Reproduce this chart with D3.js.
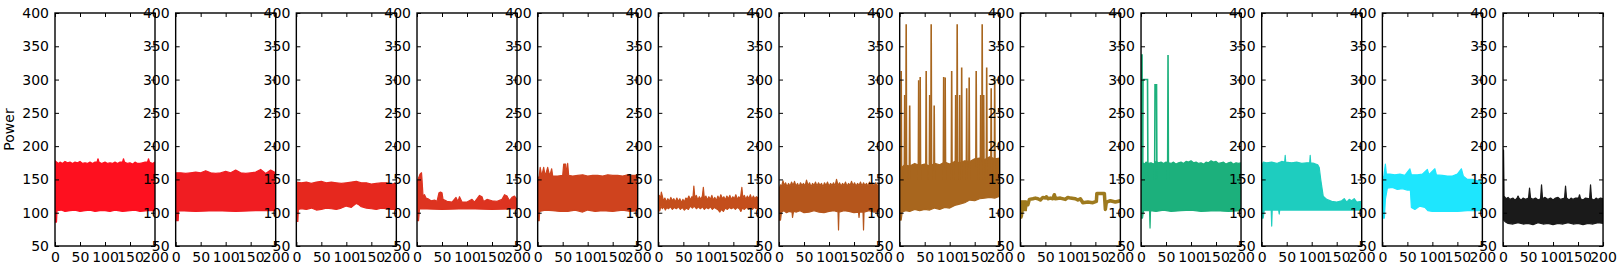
<!DOCTYPE html>
<html>
<head>
<meta charset="utf-8">
<script src="https://cdnjs.cloudflare.com/ajax/libs/d3/7.8.5/d3.min.js"></script>
<style>
 body{margin:0;background:#fff;}
 text{font-family:"DejaVu Sans",sans-serif;}
</style>
</head>
<body>
<svg id="chart" width="1619" height="274"></svg>
<script>
// axis ticks
var xTicks = [0, 50, 100, 150, 200];
var yTicks = [50, 100, 150, 200, 250, 300, 350, 400];
var yLabel = "Power";

// panel colours, left to right
var colors = ["#fe101f","#f01d22","#e6281e","#dd3320","#cf431e","#c44e1c","#b5561c",
              "#a8661e","#9e7a1e","#1cb07c","#1ecdbf","#1ee6fe","#1a1a1a"];

// upper / lower envelope of each panel, [x, power]
var hi1 = [[0,178],[3,176],[7,174],[10,176],[15,174],[20,177],[25,175],[30,176],[35,174],[40,176],[45,175],[50,177],[55,174],[60,175],[65,174],[70,176],[75,174],[80,176],[84,176],[86,181],[88,176],[93,174],[100,176],[105,174],[110,175],[115,174],[120,176],[125,174],[130,176],[135,176],[137,181],[139,176],[145,174],[150,175],[155,173],[160,176],[165,174],[170,174],[175,175],[180,176],[185,176],[187,181],[189,176],[195,174],[200,176]];
var lo1 = [[0,86],[3,86],[4,103],[12,104],[20,102],[30,103],[40,104],[50,102],[60,103],[70,104],[80,102],[90,103],[100,103],[110,102],[120,104],[135,102],[150,103],[160,104],[170,102],[185,103],[200,103]];

var hi2 = [[0,160],[10,160],[20,159],[30,160],[40,161],[50,160],[60,163],[70,160],[80,159],[90,160],[100,162],[110,160],[120,164],[130,160],[140,159],[150,160],[160,161],[170,165],[180,159],[190,164],[200,160]];
var lo2 = [[0,88],[5,88],[6,103],[40,102],[80,103],[120,102],[160,103],[200,103]];

var hi3 = [[0,146],[10,145],[20,146],[30,144],[40,146],[50,147],[60,145],[70,146],[80,145],[90,144],[100,145],[110,146],[120,147],[130,145],[140,145],[150,143],[160,144],[170,145],[180,145],[190,143],[200,144]];
var lo3 = [[0,87],[3,87],[4,105],[10,106],[20,105],[30,107],[40,104],[50,105],[60,107],[70,106],[80,105],[90,107],[100,110],[110,108],[120,114],[125,112],[130,109],[140,107],[150,106],[160,105],[170,107],[180,106],[190,105],[200,105]];

var hi4 = [[0,145],[2,150],[6,158],[9,160],[10,150],[12,125],[15,127],[18,122],[22,121],[28,118],[35,119],[40,117],[44,130],[47,131],[50,130],[52,120],[60,117],[70,116],[78,123],[82,117],[85,124],[90,116],[100,116],[110,120],[115,116],[125,126],[130,124],[133,117],[140,120],[150,118],[160,117],[170,120],[175,127],[180,125],[185,118],[190,123],[195,125],[200,120]];
var lo4 = [[0,88],[3,88],[5,106],[50,105],[100,106],[150,105],[200,106]];

var hi5 = [[0,150],[3,155],[5,168],[8,155],[12,168],[15,155],[20,168],[24,155],[28,166],[30,155],[40,155],[50,156],[52,173],[56,173],[57,156],[60,174],[62,156],[70,155],[80,156],[90,157],[100,155],[110,156],[120,156],[130,155],[140,157],[150,156],[160,156],[170,155],[180,157],[190,156],[200,156]];
var lo5 = [[0,88],[3,88],[4,102],[15,104],[30,103],[45,102],[60,102],[75,104],[90,101],[100,104],[115,102],[130,103],[150,102],[170,104],[185,102],[200,103]];

var hi6 = [[0,115],[2,126],[4,120],[6,131],[8,125],[10,118],[13,122],[16,116],[19,121],[22,117],[25,123],[28,118],[31,121],[34,116],[37,122],[40,117],[43,121],[46,115],[49,120],[52,116],[55,122],[58,120],[61,125],[64,119],[67,124],[69,121],[71,140],[73,122],[76,126],[79,119],[82,124],[85,120],[88,125],[90,138],[92,121],[95,125],[98,119],[101,124],[104,120],[107,126],[110,119],[113,123],[116,118],[119,125],[122,120],[125,127],[128,121],[131,124],[134,119],[137,125],[140,121],[143,126],[146,120],[149,124],[152,121],[155,127],[158,120],[161,124],[164,121],[167,138],[169,122],[172,126],[175,120],[178,125],[181,121],[184,127],[187,120],[190,125],[193,121],[196,124],[200,122]];
var lo6 = [[0,102],[3,103],[5,110],[8,106],[11,109],[14,104],[17,108],[20,106],[24,109],[28,105],[32,108],[36,106],[40,109],[44,105],[48,108],[52,104],[56,107],[60,105],[64,110],[68,107],[72,110],[76,106],[80,109],[84,106],[88,109],[92,105],[96,108],[100,106],[104,109],[108,105],[112,108],[116,106],[120,104],[123,101],[126,105],[130,102],[134,107],[138,105],[142,108],[146,106],[150,108],[154,105],[158,108],[162,106],[165,102],[168,107],[172,105],[176,108],[180,106],[184,108],[188,105],[192,108],[196,106],[200,107]];

var hi7 = [[0,135],[3,142],[5,139],[8,148],[10,141],[13,145],[16,139],[19,144],[22,140],[25,146],[28,141],[31,147],[34,140],[37,144],[40,139],[43,145],[46,141],[49,144],[52,140],[55,149],[58,141],[61,145],[64,139],[67,144],[70,141],[73,146],[76,140],[79,145],[82,141],[85,144],[88,139],[91,145],[94,141],[97,146],[100,140],[103,144],[106,141],[109,145],[112,140],[115,150],[118,141],[121,145],[124,140],[127,144],[130,141],[133,146],[136,140],[139,144],[142,141],[145,147],[148,141],[151,145],[154,140],[157,144],[160,141],[163,146],[166,140],[169,145],[172,141],[175,144],[178,140],[181,146],[184,141],[187,144],[190,140],[193,145],[196,141],[200,143]];
var lo7 = [[0,89],[3,89],[5,101],[10,103],[15,100],[20,102],[26,101],[27,93],[29,102],[35,101],[42,103],[50,100],[60,101],[70,103],[80,101],[90,100],[100,102],[110,103],[118,101],[119,74],[120,101],[130,103],[140,102],[150,100],[159,101],[160,93],[161,101],[168,101],[169,74],[170,101],[180,103],[190,101],[200,102]];

var hi8 = [[0,165],[10,172],[20,170],[30,174],[40,171],[50,173],[60,170],[70,174],[80,172],[90,176],[100,173],[110,177],[120,175],[130,178],[140,177],[150,181],[160,182],[170,180],[180,184],[190,181],[200,182]];
var lo8 = [[0,89],[3,89],[5,101],[12,103],[20,102],[30,105],[40,103],[50,105],[60,104],[70,107],[80,105],[90,108],[100,107],[110,111],[120,113],[130,115],[140,119],[150,118],[160,121],[170,122],[180,123],[190,122],[200,125]];
// spikes: [x start, x end, peak]
var spikes8 = [[3,3,313],[10,10,277],[13,13,383],[20,20,261],[38,38,299],[41,41,304],[53,53,313],[60,60,277],[63,63,383],[69,69,261],[88,88,304],[91,91,303],[104,104,313],[112,112,277],[115,115,383],[120,120,277],[124,124,318],[134,134,287],[139,139,303],[153,153,313],[162,162,277],[165,165,383],[168,168,277],[174,174,318],[183,183,287],[190,190,303]];

var hi9 = [[0,118],[12,118]];
var lo9 = [[0,92],[3,92],[5,103],[12,103]];
var line9 = [[0,100],[2,95],[4,110],[6,105],[8,114],[10,106],[12,115],[15,112],[18,120],[25,121],[30,122],[35,121],[40,119],[45,123],[50,122],[52,124],[55,121],[60,122],[65,121],[68,127],[70,121],[80,122],[90,120],[95,123],[100,122],[110,121],[115,119],[120,121],[125,115],[135,116],[145,115],[152,117],[153,129],[165,129],[168,129],[170,105],[172,116],[180,118],[190,116],[200,118]];

var hi10 = [[0,170],[3,175],[7,173],[10,176],[15,174],[20,175],[25,173],[30,177],[35,175],[40,176],[45,174],[50,176],[55,175],[60,174],[65,176],[70,173],[75,175],[80,176],[85,174],[90,177],[95,176],[100,178],[105,175],[110,176],[115,174],[120,175],[125,173],[130,176],[135,175],[140,178],[145,176],[150,177],[155,174],[160,175],[165,176],[170,173],[175,175],[180,176],[185,173],[190,175],[195,174],[200,175]];
var lo10 = [[0,92],[3,92],[5,103],[17,103],[18,77],[19,103],[30,102],[45,104],[60,102],[80,103],[100,104],[120,102],[150,103],[175,102],[200,103]];
var spikes10 = [[1,2,337],[4,13,300],[28,31,292],[54,54,337]];

var hi11 = [[0,170],[3,176],[10,175],[20,176],[30,174],[40,177],[46,176],[47,186],[48,176],[60,175],[70,176],[80,174],[90,175],[96,175],[97,186],[98,175],[105,174],[112,172],[115,168],[118,150],[120,140],[123,125],[130,120],[140,117],[150,116],[160,118],[165,121],[170,116],[175,120],[180,118],[185,121],[190,116],[200,117]];
var lo11 = [[0,92],[3,92],[5,104],[19,104],[20,80],[21,104],[34,104],[35,98],[36,104],[60,104],[100,104],[150,104],[200,104]];

var hi12 = [[0,150],[3,155],[6,173],[8,158],[15,158],[25,157],[35,158],[45,156],[55,166],[58,157],[70,157],[80,158],[90,165],[93,157],[105,166],[108,157],[120,156],[130,155],[140,155],[150,158],[158,166],[162,155],[170,150],[180,150],[190,148],[200,148]];
var lo12 = [[0,92],[4,92],[6,120],[10,137],[20,138],[30,135],[40,136],[50,134],[56,134],[58,108],[65,105],[75,110],[85,108],[91,103],[100,102],[120,102],[150,102],[170,103],[200,103]];

var hi13 = [[0,194],[1,194],[2,125],[6,121],[10,123],[14,120],[20,122],[24,119],[28,122],[30,125],[32,122],[36,119],[40,122],[45,120],[51,122],[53,137],[55,122],[60,120],[65,122],[70,119],[75,121],[77,142],[79,121],[84,123],[90,120],[95,122],[100,119],[105,122],[110,123],[115,120],[123,122],[125,140],[127,122],[132,119],[136,122],[140,120],[145,122],[151,122],[153,127],[155,121],[160,119],[165,122],[173,121],[175,142],[177,121],[182,119],[186,122],[190,120],[195,122],[200,121]];
var lo13 = [[0,90],[5,86],[10,84],[20,83],[30,85],[40,83],[50,84],[60,82],[70,85],[80,83],[90,84],[100,82],[110,84],[120,83],[130,85],[140,83],[150,84],[160,82],[170,84],[180,83],[190,85],[200,84]];

var his = [hi1,hi2,hi3,hi4,hi5,hi6,hi7,hi8,hi9,hi10,hi11,hi12,hi13];
var los = [lo1,lo2,lo3,lo4,lo5,lo6,lo7,lo8,lo9,lo10,lo11,lo12,lo13];
var spikes = {7: spikes8, 9: spikes10};
var lines = {8: line9};

var svg = d3.select("#chart");
var left0 = 55, step = 120.67, pw = 100, plotTop = 13, plotBottom = 246;
var y = d3.scaleLinear().domain([50,400]).range([plotBottom, plotTop]);

colors.forEach(function(col, i){
	var x0 = left0 + i*step;
	var x = d3.scaleLinear().domain([0,200]).range([x0, x0+pw]);
	var line = d3.line().x(function(d){return x(d[0]);}).y(function(d){return y(d[1]);});
	var g = svg.append("g");

	g.append("clipPath").attr("id","clip"+i)
	 .append("rect").attr("x",x0).attr("y",plotTop).attr("width",pw).attr("height",plotBottom-plotTop);
	var data = g.append("g").attr("clip-path","url(#clip"+i+")");

	// dense band: upper edge then lower edge back
	var poly = his[i].concat(los[i].slice().reverse());
	data.append("path")
		.attr("d", line(poly)+"Z")
		.attr("fill",col)
		.attr("stroke",col)
		.attr("stroke-width",1.2)
		.attr("stroke-linejoin","round");

	if(spikes[i]){
		spikes[i].forEach(function(s){
			var pts = [[s[0]-0.8,150],[s[0],s[2]],[s[1],s[2]],[s[1]+0.8,150]];
			data.append("path")
				.attr("d", line(pts))
				.attr("fill","none")
				.attr("stroke",col)
				.attr("stroke-width",1.6);
		});
	}
	if(lines[i]){
		data.append("path")
			.attr("d", line(lines[i]))
			.attr("fill","none")
			.attr("stroke",col)
			.attr("stroke-width",3.5)
			.attr("stroke-linejoin","round");
	}

	// ticks on all four sides, pointing inward
	g.append("g").attr("transform","translate("+x0+",0)")
	 .call(d3.axisLeft(y).tickValues(yTicks).tickSize(-4).tickSizeOuter(0).tickPadding(6).tickFormat(d3.format("d")));
	g.append("g").attr("transform","translate("+(x0+pw)+",0)")
	 .call(d3.axisRight(y).tickValues(yTicks).tickSize(-4).tickSizeOuter(0).tickFormat(""));
	g.append("g").attr("transform","translate(0,"+plotBottom+")")
	 .call(d3.axisBottom(x).tickValues(xTicks).tickSize(-4).tickSizeOuter(0).tickPadding(6).tickFormat(d3.format("d")));
	g.append("g").attr("transform","translate(0,"+plotTop+")")
	 .call(d3.axisTop(x).tickValues(xTicks).tickSize(-4).tickSizeOuter(0).tickFormat(""));

	g.selectAll(".domain").remove();
	g.selectAll(".tick line").attr("stroke","#000").attr("stroke-width",1);
	g.selectAll(".tick text").attr("fill","#000").style("font-size","14px");

	g.append("rect")
	 .attr("x",x0).attr("y",plotTop).attr("width",pw).attr("height",plotBottom-plotTop)
	 .attr("fill","none").attr("stroke","#000").attr("stroke-width",1.4);
});

svg.append("text")
	.attr("transform","translate(14,"+((plotTop+plotBottom)/2)+") rotate(-90)")
	.attr("text-anchor","middle")
	.style("font-size","14px")
	.text(yLabel);
</script>
</body>
</html>
